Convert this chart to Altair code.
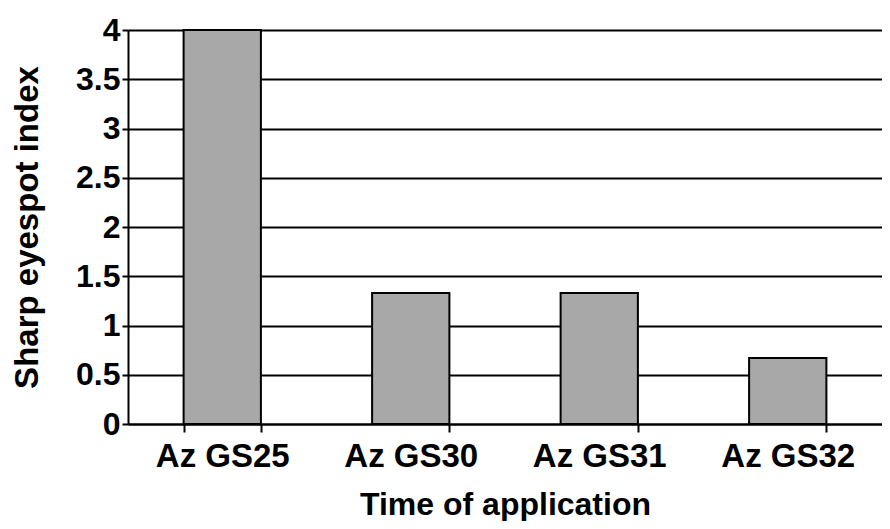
import altair as alt
import pandas as pd

categories = ["Az GS25", "Az GS30", "Az GS31", "Az GS32"]
values = [4.0, 1.33, 1.33, 0.67]

df = pd.DataFrame({"cat": categories, "val": values})

FONT = "Liberation Sans"

chart = alt.Chart(df).mark_bar(
    color="#a8a8a8", stroke="black", strokeWidth=2
).encode(
    x=alt.X("cat:N", sort=categories,
            scale=alt.Scale(paddingInner=0.59, paddingOuter=0.295),
            axis=alt.Axis(title="Time of application", labelAngle=0,
                          tickBand="extent", tickSize=8, tickColor="black",
                          tickWidth=2, domainColor="black", domainWidth=2,
                          labelFont=FONT, labelFontSize=33, labelFontWeight="bold",
                          labelColor="black", labelPadding=8,
                          titleFont=FONT, titleFontSize=32, titleFontWeight="bold",
                          titleColor="black", titlePadding=16, grid=False)),
    y=alt.Y("val:Q",
            scale=alt.Scale(domain=[0, 4], nice=False),
            axis=alt.Axis(title="Sharp eyespot index", values=[0, 0.5, 1, 1.5, 2, 2.5, 3, 3.5, 4],
                          format="~g", tickSize=6, tickColor="black", tickWidth=2,
                          domainColor="black", domainWidth=2,
                          grid=True, gridColor="black", gridWidth=2, gridOpacity=1,
                          labelFont=FONT, labelFontSize=32, labelFontWeight="bold",
                          labelColor="black", labelPadding=2,
                          titleFont=FONT, titleFontSize=33, titleFontWeight="bold",
                          titleColor="black", titlePadding=31)),
).properties(
    width=754, height=394,
    autosize=alt.AutoSizeParams(type="none"),
    padding={"left": 120, "top": 22, "right": 0, "bottom": 97},
).configure_view(stroke=None)

chart.save("out.html", embed_options={"renderer": "svg", "actions": False})
